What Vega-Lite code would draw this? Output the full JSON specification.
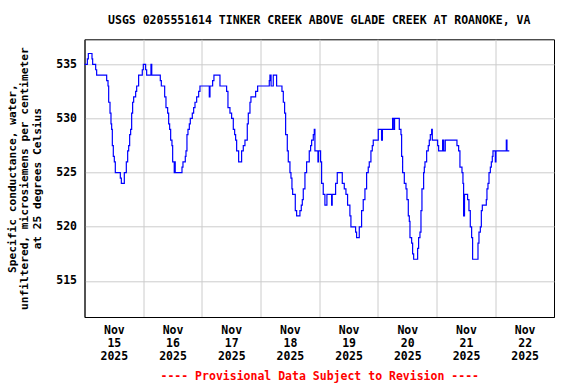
{
  "$schema": "https://vega.github.io/schema/vega-lite/v6.json",
  "width": 469.5,
  "height": 277.7,
  "autosize": {"type": "none"},
  "padding": {"left": 84.5, "top": 39.3, "right": 22, "bottom": 67},
  "config": {
    "font": "DejaVu Sans Mono",
    "view": {"stroke": "#000000", "strokeWidth": 1},
    "background": "#ffffff"
  },
  "title": {
    "text": "USGS 0205551614 TINKER CREEK ABOVE GLADE CREEK AT ROANOKE, VA",
    "font": "DejaVu Sans Mono",
    "fontSize": 11.5,
    "fontWeight": "bold",
    "color": "#000000",
    "anchor": "middle",
    "baseline": "alphabetic",
    "offset": 4
  },
  "data": {
    "values": [
      {"t": "2025-11-15T00:00", "v": 535},
      {"t": "2025-11-15T01:10", "v": 535.5},
      {"t": "2025-11-15T01:34", "v": 536},
      {"t": "2025-11-15T03:04", "v": 535.5},
      {"t": "2025-11-15T03:20", "v": 535},
      {"t": "2025-11-15T04:34", "v": 534.5},
      {"t": "2025-11-15T04:58", "v": 534},
      {"t": "2025-11-15T09:04", "v": 533.5},
      {"t": "2025-11-15T09:37", "v": 533},
      {"t": "2025-11-15T09:53", "v": 531.5},
      {"t": "2025-11-15T10:26", "v": 530.5},
      {"t": "2025-11-15T10:50", "v": 529.5},
      {"t": "2025-11-15T11:06", "v": 529},
      {"t": "2025-11-15T11:23", "v": 527.5},
      {"t": "2025-11-15T11:47", "v": 526.5},
      {"t": "2025-11-15T12:12", "v": 526},
      {"t": "2025-11-15T12:36", "v": 525},
      {"t": "2025-11-15T14:39", "v": 524.5},
      {"t": "2025-11-15T15:04", "v": 524},
      {"t": "2025-11-15T16:17", "v": 525},
      {"t": "2025-11-15T17:06", "v": 526},
      {"t": "2025-11-15T17:39", "v": 527},
      {"t": "2025-11-15T18:04", "v": 527.5},
      {"t": "2025-11-15T18:28", "v": 528.5},
      {"t": "2025-11-15T18:52", "v": 529},
      {"t": "2025-11-15T19:17", "v": 530.5},
      {"t": "2025-11-15T19:41", "v": 531.5},
      {"t": "2025-11-15T20:06", "v": 532},
      {"t": "2025-11-15T20:55", "v": 532.5},
      {"t": "2025-11-15T21:20", "v": 533},
      {"t": "2025-11-15T22:08", "v": 534},
      {"t": "2025-11-15T23:38", "v": 534.5},
      {"t": "2025-11-16T00:03", "v": 535},
      {"t": "2025-11-16T01:00", "v": 534.5},
      {"t": "2025-11-16T01:25", "v": 534},
      {"t": "2025-11-16T03:11", "v": 535},
      {"t": "2025-11-16T03:30", "v": 534},
      {"t": "2025-11-16T07:00", "v": 533.5},
      {"t": "2025-11-16T07:25", "v": 533},
      {"t": "2025-11-16T08:47", "v": 532},
      {"t": "2025-11-16T09:19", "v": 531},
      {"t": "2025-11-16T10:00", "v": 530.5},
      {"t": "2025-11-16T10:25", "v": 529.5},
      {"t": "2025-11-16T10:49", "v": 529},
      {"t": "2025-11-16T11:14", "v": 528},
      {"t": "2025-11-16T11:46", "v": 527.5},
      {"t": "2025-11-16T12:03", "v": 526},
      {"t": "2025-11-16T12:42", "v": 525},
      {"t": "2025-11-16T12:54", "v": 526},
      {"t": "2025-11-16T13:06", "v": 525},
      {"t": "2025-11-16T15:52", "v": 525.5},
      {"t": "2025-11-16T16:16", "v": 526},
      {"t": "2025-11-16T17:13", "v": 526.5},
      {"t": "2025-11-16T17:30", "v": 527},
      {"t": "2025-11-16T17:54", "v": 528.5},
      {"t": "2025-11-16T18:19", "v": 529},
      {"t": "2025-11-16T18:52", "v": 529.5},
      {"t": "2025-11-16T19:16", "v": 530},
      {"t": "2025-11-16T20:05", "v": 530.5},
      {"t": "2025-11-16T20:38", "v": 531},
      {"t": "2025-11-16T21:11", "v": 531.5},
      {"t": "2025-11-16T21:52", "v": 532},
      {"t": "2025-11-16T22:41", "v": 532.5},
      {"t": "2025-11-16T23:13", "v": 533},
      {"t": "2025-11-17T03:02", "v": 532},
      {"t": "2025-11-17T03:19", "v": 533},
      {"t": "2025-11-17T04:24", "v": 533.5},
      {"t": "2025-11-17T04:56", "v": 534},
      {"t": "2025-11-17T07:24", "v": 533},
      {"t": "2025-11-17T10:07", "v": 532.5},
      {"t": "2025-11-17T10:40", "v": 531},
      {"t": "2025-11-17T11:29", "v": 530.5},
      {"t": "2025-11-17T12:10", "v": 530},
      {"t": "2025-11-17T12:51", "v": 529},
      {"t": "2025-11-17T13:24", "v": 528.5},
      {"t": "2025-11-17T13:48", "v": 528},
      {"t": "2025-11-17T14:13", "v": 527},
      {"t": "2025-11-17T15:02", "v": 526},
      {"t": "2025-11-17T16:15", "v": 527},
      {"t": "2025-11-17T16:56", "v": 527.5},
      {"t": "2025-11-17T17:37", "v": 528},
      {"t": "2025-11-17T18:34", "v": 529.5},
      {"t": "2025-11-17T18:59", "v": 530.5},
      {"t": "2025-11-17T19:40", "v": 531.5},
      {"t": "2025-11-17T20:04", "v": 532},
      {"t": "2025-11-17T21:59", "v": 532.5},
      {"t": "2025-11-17T22:48", "v": 533},
      {"t": "2025-11-18T03:34", "v": 533.5},
      {"t": "2025-11-18T03:50", "v": 534},
      {"t": "2025-11-18T04:18", "v": 533},
      {"t": "2025-11-18T05:12", "v": 534},
      {"t": "2025-11-18T06:34", "v": 533},
      {"t": "2025-11-18T08:45", "v": 532.5},
      {"t": "2025-11-18T09:18", "v": 531.5},
      {"t": "2025-11-18T09:50", "v": 530.5},
      {"t": "2025-11-18T10:15", "v": 528.5},
      {"t": "2025-11-18T10:56", "v": 527},
      {"t": "2025-11-18T11:20", "v": 526},
      {"t": "2025-11-18T12:01", "v": 525},
      {"t": "2025-11-18T12:26", "v": 524.5},
      {"t": "2025-11-18T12:50", "v": 523.5},
      {"t": "2025-11-18T13:07", "v": 523},
      {"t": "2025-11-18T14:12", "v": 521.5},
      {"t": "2025-11-18T14:45", "v": 521},
      {"t": "2025-11-18T16:06", "v": 521.5},
      {"t": "2025-11-18T16:39", "v": 522},
      {"t": "2025-11-18T17:04", "v": 522.5},
      {"t": "2025-11-18T17:28", "v": 523.5},
      {"t": "2025-11-18T18:09", "v": 525},
      {"t": "2025-11-18T18:50", "v": 526},
      {"t": "2025-11-18T19:55", "v": 527},
      {"t": "2025-11-18T20:28", "v": 527.5},
      {"t": "2025-11-18T20:53", "v": 528},
      {"t": "2025-11-18T21:34", "v": 528.5},
      {"t": "2025-11-18T21:58", "v": 529},
      {"t": "2025-11-18T22:14", "v": 527},
      {"t": "2025-11-18T23:28", "v": 526},
      {"t": "2025-11-18T23:42", "v": 527},
      {"t": "2025-11-19T00:33", "v": 526},
      {"t": "2025-11-19T00:58", "v": 524},
      {"t": "2025-11-19T01:38", "v": 523},
      {"t": "2025-11-19T02:19", "v": 522},
      {"t": "2025-11-19T03:08", "v": 523},
      {"t": "2025-11-19T05:03", "v": 522},
      {"t": "2025-11-19T05:18", "v": 523},
      {"t": "2025-11-19T06:41", "v": 524},
      {"t": "2025-11-19T07:22", "v": 525},
      {"t": "2025-11-19T09:25", "v": 524},
      {"t": "2025-11-19T10:14", "v": 523.5},
      {"t": "2025-11-19T10:55", "v": 523},
      {"t": "2025-11-19T11:35", "v": 522},
      {"t": "2025-11-19T12:32", "v": 521},
      {"t": "2025-11-19T12:57", "v": 520},
      {"t": "2025-11-19T14:52", "v": 519.5},
      {"t": "2025-11-19T15:16", "v": 519},
      {"t": "2025-11-19T16:22", "v": 520},
      {"t": "2025-11-19T17:19", "v": 521.5},
      {"t": "2025-11-19T17:59", "v": 522.5},
      {"t": "2025-11-19T18:41", "v": 523.5},
      {"t": "2025-11-19T19:22", "v": 525},
      {"t": "2025-11-19T20:02", "v": 525.5},
      {"t": "2025-11-19T20:27", "v": 526},
      {"t": "2025-11-19T21:08", "v": 527},
      {"t": "2025-11-19T21:41", "v": 527.5},
      {"t": "2025-11-19T22:05", "v": 528},
      {"t": "2025-11-20T00:08", "v": 529},
      {"t": "2025-11-20T01:29", "v": 528},
      {"t": "2025-11-20T01:50", "v": 529},
      {"t": "2025-11-20T05:59", "v": 530},
      {"t": "2025-11-20T06:30", "v": 529},
      {"t": "2025-11-20T06:48", "v": 530},
      {"t": "2025-11-20T08:44", "v": 529},
      {"t": "2025-11-20T09:25", "v": 528.5},
      {"t": "2025-11-20T09:41", "v": 526.5},
      {"t": "2025-11-20T10:06", "v": 525},
      {"t": "2025-11-20T10:47", "v": 524},
      {"t": "2025-11-20T11:28", "v": 523.5},
      {"t": "2025-11-20T11:52", "v": 522.5},
      {"t": "2025-11-20T12:25", "v": 521},
      {"t": "2025-11-20T12:50", "v": 520.5},
      {"t": "2025-11-20T13:06", "v": 519},
      {"t": "2025-11-20T13:47", "v": 518.5},
      {"t": "2025-11-20T14:11", "v": 517.5},
      {"t": "2025-11-20T14:36", "v": 517},
      {"t": "2025-11-20T16:14", "v": 518},
      {"t": "2025-11-20T16:38", "v": 519},
      {"t": "2025-11-20T17:11", "v": 519.5},
      {"t": "2025-11-20T17:36", "v": 521.5},
      {"t": "2025-11-20T18:00", "v": 523.5},
      {"t": "2025-11-20T18:41", "v": 525},
      {"t": "2025-11-20T18:58", "v": 525.5},
      {"t": "2025-11-20T19:14", "v": 526},
      {"t": "2025-11-20T19:55", "v": 527},
      {"t": "2025-11-20T20:35", "v": 527.5},
      {"t": "2025-11-20T21:00", "v": 528},
      {"t": "2025-11-20T21:25", "v": 528.5},
      {"t": "2025-11-20T21:58", "v": 529},
      {"t": "2025-11-20T22:14", "v": 528},
      {"t": "2025-11-21T00:25", "v": 527.5},
      {"t": "2025-11-21T00:49", "v": 527},
      {"t": "2025-11-21T02:27", "v": 528},
      {"t": "2025-11-21T02:54", "v": 527},
      {"t": "2025-11-21T03:32", "v": 528},
      {"t": "2025-11-21T08:19", "v": 527.5},
      {"t": "2025-11-21T09:00", "v": 527},
      {"t": "2025-11-21T09:32", "v": 525.5},
      {"t": "2025-11-21T10:22", "v": 525},
      {"t": "2025-11-21T10:46", "v": 524},
      {"t": "2025-11-21T11:02", "v": 521},
      {"t": "2025-11-21T11:24", "v": 523},
      {"t": "2025-11-21T12:40", "v": 522.5},
      {"t": "2025-11-21T13:13", "v": 521.5},
      {"t": "2025-11-21T13:46", "v": 520},
      {"t": "2025-11-21T14:19", "v": 519},
      {"t": "2025-11-21T14:43", "v": 517},
      {"t": "2025-11-21T16:55", "v": 518.5},
      {"t": "2025-11-21T17:19", "v": 519.5},
      {"t": "2025-11-21T17:52", "v": 520},
      {"t": "2025-11-21T18:17", "v": 521.5},
      {"t": "2025-11-21T18:41", "v": 522},
      {"t": "2025-11-21T20:19", "v": 522.5},
      {"t": "2025-11-21T20:35", "v": 523.5},
      {"t": "2025-11-21T21:00", "v": 524},
      {"t": "2025-11-21T21:25", "v": 525},
      {"t": "2025-11-21T21:58", "v": 525.5},
      {"t": "2025-11-21T22:22", "v": 526},
      {"t": "2025-11-21T22:46", "v": 526.5},
      {"t": "2025-11-21T23:03", "v": 527},
      {"t": "2025-11-22T00:00", "v": 526},
      {"t": "2025-11-22T00:16", "v": 527},
      {"t": "2025-11-22T04:30", "v": 528},
      {"t": "2025-11-22T04:46", "v": 527},
      {"t": "2025-11-22T05:43", "v": 527}
    ]
  },
  "mark": {"type": "line", "interpolate": "step-after", "color": "#0000ff", "strokeWidth": 1.2},
  "encoding": {
    "x": {
      "field": "t",
      "type": "temporal",
      "scale": {
        "domain": [
          {"year": 2025, "month": "nov", "date": 15},
          {"year": 2025, "month": "nov", "date": 23}
        ],
        "nice": false
      },
      "axis": {
        "values": [
          {"year": 2025, "month": "nov", "date": 15},
          {"year": 2025, "month": "nov", "date": 16},
          {"year": 2025, "month": "nov", "date": 17},
          {"year": 2025, "month": "nov", "date": 18},
          {"year": 2025, "month": "nov", "date": 19},
          {"year": 2025, "month": "nov", "date": 20},
          {"year": 2025, "month": "nov", "date": 21},
          {"year": 2025, "month": "nov", "date": 22}
        ],
        "labelExpr": "[timeFormat(datum.value, '%b'), timeFormat(datum.value, '%d'), timeFormat(datum.value, '%Y')]",
        "labelOffset": 29.35,
        "labelAlign": "center",
        "labelBaseline": "top",
        "labelPadding": 7,
        "labelLineHeight": 13.3,
        "labelFont": "DejaVu Sans Mono",
        "labelFontSize": 11.5,
        "labelFontWeight": "bold",
        "labelColor": "#000000",
        "labelOverlap": false,
        "labelFlush": false,
        "labelBound": false,
        "ticks": false,
        "domain": true,
        "domainColor": "#000000",
        "domainWidth": 1,
        "grid": true,
        "gridColor": "#cccccc",
        "gridWidth": 1,
        "title": "---- Provisional Data Subject to Revision ----",
        "titleFont": "DejaVu Sans Mono",
        "titleFontSize": 11.5,
        "titleFontWeight": "bold",
        "titleColor": "#ff0000",
        "titleBaseline": "alphabetic",
        "titleY": 62.7
      }
    },
    "y": {
      "field": "v",
      "type": "quantitative",
      "scale": {"domain": [511.67, 537.31], "nice": false, "zero": false},
      "axis": {
        "values": [515, 520, 525, 530, 535],
        "format": "d",
        "labelFont": "DejaVu Sans Mono",
        "labelFontSize": 11.5,
        "labelFontWeight": "bold",
        "labelColor": "#000000",
        "labelPadding": 8,
        "ticks": false,
        "domain": true,
        "domainColor": "#000000",
        "domainWidth": 1,
        "grid": true,
        "gridColor": "#cccccc",
        "gridWidth": 1,
        "title": ["Specific conductance, water,", "unfiltered, microsiemens per centimeter", "at 25 degrees Celsius"],
        "titleFont": "DejaVu Sans Mono",
        "titleFontSize": 11.2,
        "titleFontWeight": "bold",
        "titleColor": "#000000",
        "titleLineHeight": 12.5,
        "titlePadding": 13.5
      }
    }
  }
}
